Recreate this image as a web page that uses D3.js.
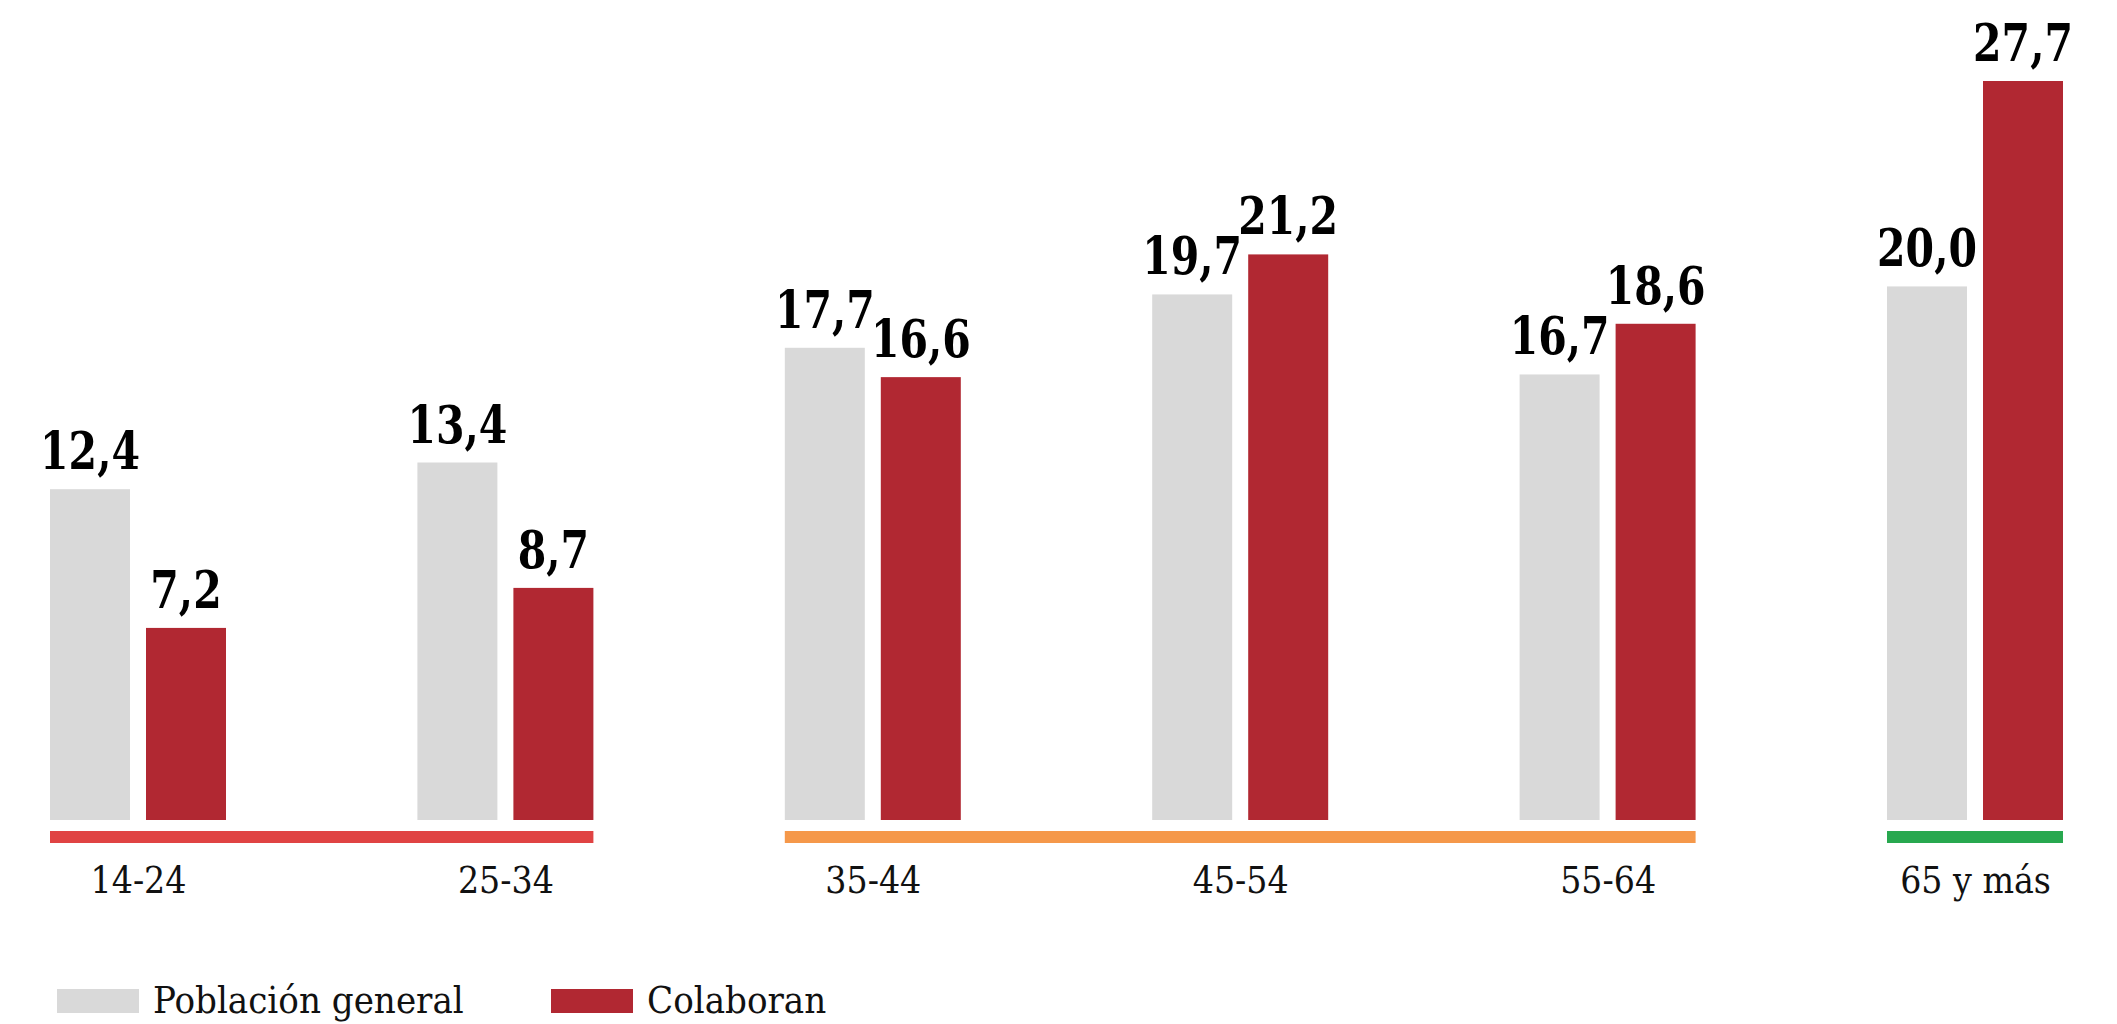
<!DOCTYPE html>
<html><head><meta charset="utf-8">
<script src="https://cdn.jsdelivr.net/npm/d3@7/dist/d3.min.js"></script>
<style>
html,body{margin:0;padding:0;background:#fff;overflow:hidden}
svg{display:block}
.val{font-family:"DejaVu Serif Condensed","DejaVu Serif",serif;font-stretch:condensed;font-weight:bold;font-size:53px;fill:#000}
.cat{font-family:"DejaVu Serif Condensed","DejaVu Serif",serif;font-stretch:condensed;font-size:37px;fill:#111}
.leg{font-family:"DejaVu Serif Condensed","DejaVu Serif",serif;font-stretch:condensed;font-size:38px;fill:#111}
</style></head>
<body>
<script>
const categories = ["14-24","25-34","35-44","45-54","55-64","65 y más"];
const seriesNames = ["Población general","Colaboran"];
const poblacionGeneral = [12.4,13.4,17.7,19.7,16.7,20.0];
const colaboran = [7.2,8.7,16.6,21.2,18.6,27.7];
const seriesColors = ["#d9d9d9","#b12832"];
const groupBands = [
  {from:"14-24", to:"25-34", color:"#e04343"},
  {from:"35-44", to:"55-64", color:"#f5984a"},
  {from:"65 y más", to:"65 y más", color:"#28a84f"}
];

const W = 2117, H = 1024;
const svg = d3.select("body").append("svg").attr("width",W).attr("height",H);

const x = d3.scalePoint().domain(categories).range([138, 1975]);
const xs = d3.scaleBand().domain(seriesNames).range([-88, 88]).paddingInner(1/6);
const y = d3.scaleLinear().domain([0, 27.7]).range([820, 81]);

const data = categories.map((c,i)=>({cat:c, vals:[poblacionGeneral[i], colaboran[i]]}));
const fmt = v => d3.format(".1f")(v).replace(".", ",");

const g = svg.selectAll("g.grp").data(data).join("g").attr("class","grp")
  .attr("transform", d=>`translate(${x(d.cat)},0)`);

g.selectAll("rect").data(d=>d.vals.map((v,j)=>({v, s:seriesNames[j], j}))).join("rect")
  .attr("x", d=>xs(d.s)).attr("width", xs.bandwidth())
  .attr("y", d=>y(d.v)).attr("height", d=>y(0)-y(d.v))
  .attr("fill", d=>seriesColors[d.j]);

g.selectAll("g.lab").data(d=>d.vals.map((v,j)=>({v, s:seriesNames[j], j}))).join("g").attr("class","lab")
  .attr("transform", d=>`translate(${xs(d.s)+xs.bandwidth()/2},${y(d.v)-20})`)
  .append("text").attr("class","val").attr("text-anchor","middle")
  .attr("transform","scale(0.86,1)")
  .text(d=>fmt(d.v));

// colored group underlines
svg.selectAll("rect.band").data(groupBands).join("rect").attr("class","band")
  .attr("x", d=>x(d.from)+xs(seriesNames[0]))
  .attr("width", d=>x(d.to)+xs(seriesNames[1])+xs.bandwidth() - (x(d.from)+xs(seriesNames[0])))
  .attr("y", 831).attr("height", 12)
  .attr("fill", d=>d.color);

// category axis labels
const axis = d3.axisBottom(x).tickSize(0).tickPadding(0);
const ax = svg.append("g").attr("transform","translate(0,867)").call(axis);
ax.select(".domain").remove();
ax.selectAll("text").attr("class","cat").attr("fill",null).style("font-size",null).style("font-family",null).attr("dy","0.71em");

// legend
const legX = [57, 551];
const leg = svg.selectAll("g.legend").data(seriesNames).join("g").attr("class","legend")
  .attr("transform",(d,i)=>`translate(${legX[i]},989)`);
leg.append("rect").attr("width",82).attr("height",24).attr("fill",(d,i)=>seriesColors[i]);
leg.append("text").attr("class","leg").attr("x",96).attr("y",24).text(d=>d);
</script>
</body></html>
